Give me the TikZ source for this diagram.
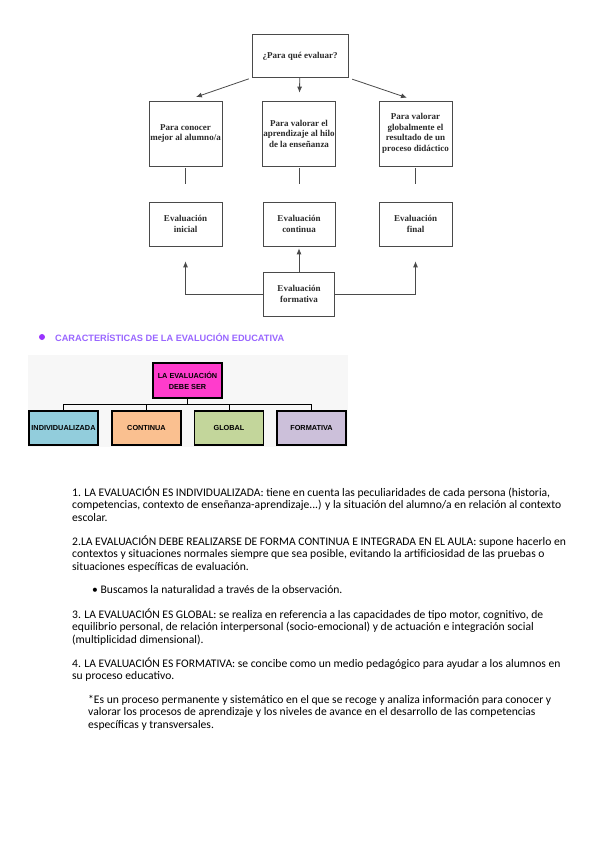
\documentclass[tikz,border=0pt]{standalone}
\usepackage{fontspec}
\setmainfont{Liberation Serif}
\setsansfont{Liberation Sans}
\newfontfamily\bodyfont{Carlito}
\usetikzlibrary{arrows.meta,positioning}
\definecolor{ScanLine}{HTML}{4A4A4A}
\definecolor{ScanText}{HTML}{2B2B2B}
\definecolor{TitlePurple}{HTML}{9966FF}
\definecolor{DotPurple}{HTML}{9933FF}
\definecolor{SerPink}{HTML}{FF3CCC}
\definecolor{IndivBlue}{HTML}{92CDDC}
\definecolor{ContOrange}{HTML}{FAC090}
\definecolor{GlobGreen}{HTML}{C3D69B}
\definecolor{FormLilac}{HTML}{CCC0DA}
\definecolor{PanelGray}{HTML}{F7F7F7}

\begin{document}
\begin{tikzpicture}[
    x=1pt, y=-1pt,
    scanbox/.style={
      draw=ScanLine,
      line width=0.7pt,
      minimum width=73pt,
      inner sep=1pt,
      align=center,
      text=ScanText,
      font=\fontsize{9}{10.5}\selectfont\bfseries
    },
    scanarrow/.style={-{Latex[length=6pt,width=5pt]},line width=0.8pt,draw=ScanLine},
    scanstub/.style={line width=0.8pt,draw=ScanLine},
    serbox/.style={
      draw=black,
      line width=1.6pt,
      minimum width=69pt,
      minimum height=34pt,
      inner sep=1pt,
      align=center,
      font=\sffamily\fontsize{7.3}{11}\selectfont\bfseries
    },
    treeline/.style={line width=0.8pt,draw=black},
    para/.style={
      anchor=north west,
      inner sep=0pt,
      align=left,
      font=\bodyfont\fontsize{11.6}{12.5}\selectfont
    }
  ]
    \useasboundingbox (0,0) rectangle (600,848);
    % scanned scheme
    \node[scanbox,minimum width=96pt,minimum height=43pt] (pregunta) at (300,56) {¿Para qué evaluar?};
    \node[scanbox,minimum height=65pt] (conocer) at (185.5,133.5) {Para conocer\\mejor al alumno/a};
    \node[scanbox,minimum height=65pt,minimum width=72pt] (hilo) at (299,133.5) {Para valorar el\\aprendizaje al hilo\\de la enseñanza};
    \node[scanbox,minimum height=65pt] (resultado) at (415.5,133.5) {Para valorar\\globalmente el\\resultado de un\\proceso didáctico};
    \node[scanbox,minimum height=44pt] (inicial) at (185.5,224) {Evaluación\\inicial};
    \node[scanbox,minimum height=44pt,minimum width=72pt] (continua) at (299,224) {Evaluación\\continua};
    \node[scanbox,minimum height=44pt] (final) at (415.5,224) {Evaluación\\final};
    \node[scanbox,minimum height=44pt,minimum width=71pt] (formativa) at (299,294) {Evaluación\\formativa};
    \draw[scanarrow,shorten <=3pt,shorten >=11pt] (pregunta.south west) -- (conocer.north);
    \draw[scanarrow,shorten >=8pt] (pregunta) -- (hilo);
    \draw[scanarrow,shorten <=4pt,shorten >=9pt] (pregunta.south east) -- (resultado.north);
    \foreach \a/\b in {conocer/inicial,hilo/continua,resultado/final}
      \draw[scanstub,shorten <=2pt,shorten >=18pt] (\a) -- (\b);
    \draw[scanarrow,shorten >=2pt] (formativa) -- (continua);
    \draw[scanarrow,shorten >=15pt] (formativa.west) -| (inicial);
    \draw[scanarrow,shorten >=15pt] (formativa.east) -| (final);
    % caracteristicas
    \fill[DotPurple] (42,337) circle (3pt);
    \node[anchor=west,inner sep=0pt,text=TitlePurple,font=\sffamily\fontsize{9.2}{10}\selectfont\bfseries] (titulo) at (55,337) {CARACTERÍSTICAS DE LA EVALUCIÓN EDUCATIVA};
    \fill[PanelGray] (28,355) rectangle (348,447);
    \node[serbox,fill=SerPink,minimum height=35pt] (debeser) at (187.5,380.5) {LA EVALUACIÓN\\DEBE SER};
    \node[serbox,fill=IndivBlue] (individ) at (63.5,428) {INDIVIDUALIZADA};
    \node[serbox,fill=ContOrange] (contin) at (146.5,428) {CONTINUA};
    \node[serbox,fill=GlobGreen] (glob) at (229,428) {GLOBAL};
    \node[serbox,fill=FormLilac] (format) at (311.5,428) {FORMATIVA};
    \foreach \c in {individ,contin,glob,format}
      \draw[treeline] (debeser.south) -- ++(0,6) -| (\c.north);
    % texto
    \node[para] (p1) at (72,486.5) {\strut 1. LA EVALUACIÓN ES INDIVIDUALIZADA: tiene en cuenta las peculiaridades de cada persona (historia,\\competencias, contexto de enseñanza-aprendizaje...) y la situación del alumno/a en relación al contexto\\escolar.};
    \node[para] (p2) at (72,535.5) {\strut 2.LA EVALUACIÓN DEBE REALIZARSE DE FORMA CONTINUA E INTEGRADA EN EL AULA: supone hacerlo en\\contextos y situaciones normales siempre que sea posible, evitando la artificiosidad de las pruebas o\\situaciones específicas de evaluación.};
    \node[para] (p2b) at (92,584.5) {\strut • Buscamos la naturalidad a través de la observación.};
    \node[para] (p3) at (72,608.5) {\strut 3. LA EVALUACIÓN ES GLOBAL: se realiza en referencia a las capacidades de tipo motor, cognitivo, de\\equilibrio personal, de relación interpersonal (socio-emocional) y de actuación e integración social\\(multiplicidad dimensional).};
    \node[para] (p4) at (72,657.5) {\strut 4. LA EVALUACIÓN ES FORMATIVA: se concibe como un medio pedagógico para ayudar a los alumnos en\\su proceso educativo.};
    \node[para] (p4b) at (88,694.5) {\strut *Es un proceso permanente y sistemático en el que se recoge y analiza información para conocer y\\valorar los procesos de aprendizaje y los niveles de avance en el desarrollo de las competencias\\específicas y transversales.};
  \end{tikzpicture}
\end{document}
